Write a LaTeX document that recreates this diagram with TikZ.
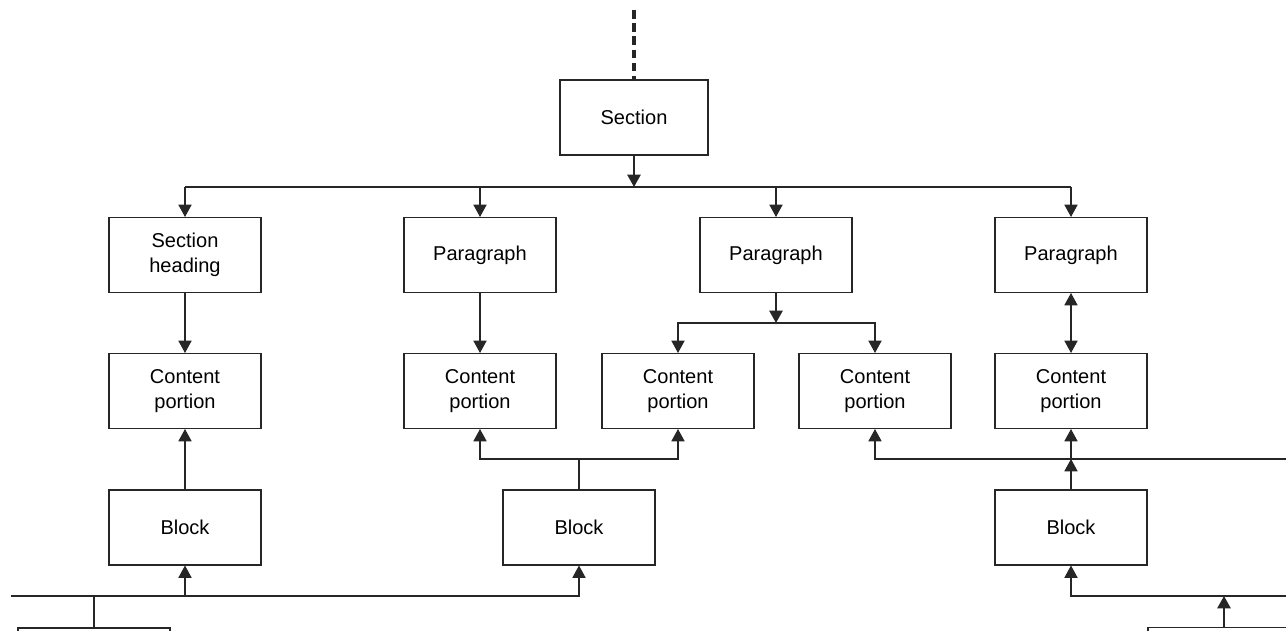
\documentclass[tikz,border=0pt]{standalone}
\usepackage{fontspec}
\setmainfont{Liberation Sans}
\usetikzlibrary{arrows.meta}
\tikzset{
	unit/.style={draw=black!85, line width=0.6pt, minimum width=3.04cm, minimum height=1.5cm,
		inner sep=0pt, align=center, font=\fontsize{11.4}{14.5}\selectfont},
	link/.style={draw=black!85, line width=0.6pt},
	arr/.style={link, -{Triangle[length=7pt,width=7.5pt]}},
	both/.style={link, {Triangle[length=7pt,width=7.5pt]}-{Triangle[length=7pt,width=7.5pt]}}
}
\begin{document}
\begin{tikzpicture}[x=0.02cm,y=-0.02cm]
	\useasboundingbox (0,0) rectangle (1286,631);
	\clip (0,0) rectangle (1286,631);
	% boxes
	\node[unit, minimum width=2.96cm] (sec) at (634,117.5) {Section};
	\node[unit] (head) at (185,255) {Section\\heading};
	\foreach \n/\x in {par1/480,par2/776,par3/1071}
		\node[unit] (\n) at (\x,255) {Paragraph};
	\foreach \n/\x in {cp1/185,cp2/480,cp3/678,cp4/875,cp5/1071}
		\node[unit] (\n) at (\x,391) {Content\\portion};
	\foreach \n/\x in {blk1/185,blk2/579,blk3/1071}
		\node[unit] (\n) at (\x,527.5) {Block};
	\node[unit] (lowL) at (94,665.5) {};
	\node[unit] (lowR) at (1224,665) {};
	% bus points
	\coordinate (top) at (634,10);
	\coordinate (busA) at (634,187);
	\coordinate (busB) at (776,323);
	\coordinate (busC) at (579,459);
	\coordinate (edgeC) at (1286,459);
	\coordinate (busD) at (0,596);
	\coordinate (edgeL) at (11,596);
	\coordinate (edgeD) at (1286,596);
	% section level
	\draw[link, line width=2.2pt, dash pattern=on 5pt off 2.5pt] (top) -- (sec.north);
	\draw[arr, line width=1.1pt] (sec.south) -- (busA);
	\draw[link] (head.north |- busA) -- (par3.north |- busA);
	\foreach \n in {head,par1,par2,par3}
		\draw[arr] (\n.north |- busA) -- (\n.north);
	% paragraph level
	\draw[arr] (head) -- (cp1);
	\draw[arr] (par1) -- (cp2);
	\draw[arr, line width=1.1pt] (par2.south) -- (busB);
	\draw[arr] (busB) -| (cp3.north);
	\draw[arr] (busB) -| (cp4.north);
	\draw[both] (par3) -- (cp5);
	% block level
	\draw[arr] (blk1) -- (cp1);
	\draw[link] (blk2.north) -- (blk2.north |- busC);
	\draw[arr] (blk2.north |- busC) -| (cp2.south);
	\draw[arr] (blk2.north |- busC) -| (cp3.south);
	\draw[arr] (blk3.north) -- (blk3.north |- edgeC);
	\draw[arr] (blk3.north |- edgeC) -- (cp5.south);
	\draw[arr] (edgeC) -| (cp4.south);
	% lowest level
	\draw[arr] (edgeL) -| (blk2.south);
	\draw[link, line width=1.4pt] (edgeL) -- (lowL.north |- edgeL);
	\draw[arr] (blk1.south |- busD) -- (blk1.south);
	\draw[link] (lowL.north) -- (lowL.north |- busD);
	\draw[arr] (edgeD) -| (blk3.south);
	\draw[arr, line width=1.1pt] (lowR.north) -- (lowR.north |- edgeD);
\end{tikzpicture}
\end{document}
